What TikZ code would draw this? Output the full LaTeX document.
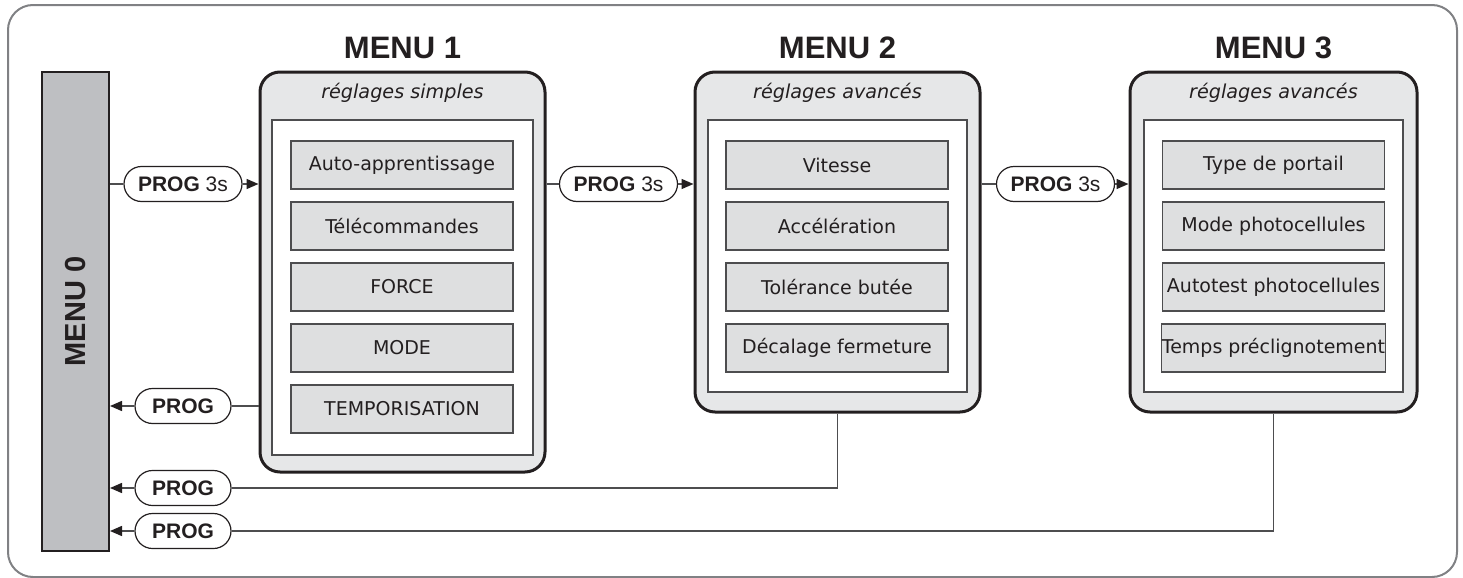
\documentclass[tikz,border=0pt]{standalone}
\usepackage{fontspec}
\setmainfont{DejaVu Sans}
\newfontfamily\hv{Liberation Sans}
\usetikzlibrary{arrows.meta}
\definecolor{framegray}{HTML}{808184}
\definecolor{menufill}{HTML}{E6E7E8}
\definecolor{itemfill}{HTML}{DEDFE0}
\definecolor{barfill}{HTML}{BEBFC2}
\definecolor{ink}{HTML}{231F20}
\definecolor{conngray}{HTML}{4D4D4F}
\begin{document}
\begin{tikzpicture}[x=0.5pt,y=-0.5pt,
  menubox/.style={draw=ink,line width=1.5pt,fill=menufill,rounded corners=10pt,inner sep=0pt},
  innerbox/.style={draw=conngray,line width=0.75pt,fill=white,inner sep=0pt},
  itembox/.style={draw=conngray,line width=0.6pt,fill=itemfill,inner sep=0pt,
    minimum width=111pt,minimum height=24pt,text=ink,font=\fontsize{9.5}{11}\selectfont},
  subtitle/.style={text=ink,font=\fontsize{9.6}{11}\selectfont\itshape},
  menutitle/.style={text=ink,font=\hv\bfseries\fontsize{15.5}{18}\selectfont},
  bar/.style={draw=ink,line width=1pt,fill=barfill,inner sep=0pt},
  pill/.style={draw=ink,line width=0.6pt,fill=white,rounded corners=8.75pt,inner sep=0pt,
    minimum width=59pt,minimum height=17.5pt,text=ink,font=\hv\fontsize{10.5}{12}\selectfont},
  rpill/.style={pill,minimum width=48pt},
  conn/.style={draw=conngray,line width=0.75pt},
  connarrow/.style={conn,-{Triangle[length=6pt,width=5pt,color=ink]}}
]
\useasboundingbox (0,0) rectangle (1463,578);
\draw[draw=framegray,line width=1pt,rounded corners=12.5pt] (8,5) rectangle (1457,577);

% MENU 0
\node[bar,minimum width=33.5pt,minimum height=239.5pt] (m0) at (75.5,311.5) {};
\node[menutitle,rotate=90,font=\hv\bfseries\fontsize{14.5}{17}\selectfont] (m0t) at (m0) {MENU 0};

% MENU 1
\node[menubox,minimum width=142.5pt,minimum height=200pt] (m1) at (402.5,272) {};
\node[innerbox,minimum width=130.5pt,minimum height=167.5pt] (i1) at (402.5,287.5) {};
\node[menutitle] (t1) at (402.5,48) {MENU 1};
\node[subtitle] (s1) at (402.5,93) {réglages simples};
\node[itembox] (a1) at (402,165) {Auto-apprentissage};
\node[itembox] (a2) at (402,226) {Télécommandes};
\node[itembox] (a3) at (402,287) {FORCE};
\node[itembox] (a4) at (402,348) {MODE};
\node[itembox] (a5) at (402,409) {TEMPORISATION};

% MENU 2
\node[menubox,minimum width=142.5pt,minimum height=170pt] (m2) at (837.5,242) {};
\node[innerbox,minimum width=129.5pt,minimum height=136pt] (i2) at (837.5,256) {};
\node[menutitle] (t2) at (837.5,48) {MENU 2};
\node[subtitle] (s2) at (837.5,93) {réglages avancés};
\node[itembox] (b1) at (837,165) {Vitesse};
\node[itembox] (b2) at (837,226) {Accélération};
\node[itembox] (b3) at (837,287) {Tolérance butée};
\node[itembox] (b4) at (837,348) {Décalage fermeture};

% MENU 3
\node[menubox,minimum width=143.5pt,minimum height=170pt] (m3) at (1273.5,242) {};
\node[innerbox,minimum width=129.5pt,minimum height=136pt] (i3) at (1273.5,256) {};
\node[menutitle] (t3) at (1273.5,48) {MENU 3};
\node[subtitle] (s3) at (1273.5,93) {réglages avancés};
\node[itembox] (c1) at (1273.5,165) {Type de portail};
\node[itembox] (c2) at (1273.5,226) {Mode photocellules};
\node[itembox] (c3) at (1273.5,287) {Autotest photocellules};
\node[itembox] (c4) at (1273.5,348) {Temps préclignotement};

% forward pills
\node[pill] (p1) at (183,184) {\textbf{PROG} 3s};
\node[pill] (p2) at (618.5,184) {\textbf{PROG} 3s};
\node[pill] (p3) at (1055.5,184) {\textbf{PROG} 3s};
\draw[conn] (m0.east |- p1) -- (p1.west);
\draw[connarrow] (p1.east) -- (m1.west |- p1);
\draw[conn] (m1.east |- p2) -- (p2.west);
\draw[connarrow] (p2.east) -- (m2.west |- p2);
\draw[conn] (m2.east |- p3) -- (p3.west);
\draw[connarrow] (p3.east) -- (m3.west |- p3);

% return pills
\node[rpill] (r1) at (183,406) {\textbf{PROG}};
\node[rpill] (r2) at (183,488) {\textbf{PROG}};
\node[rpill] (r3) at (183,531) {\textbf{PROG}};
\draw[conn] (m1.west |- r1) -- (r1.east);
\draw[connarrow] (r1.west) -- (m0.east |- r1);
\draw[conn] (m2.south) |- (r2.east);
\draw[connarrow] (r2.west) -- (m0.east |- r2);
\draw[conn] (m3.south) |- (r3.east);
\draw[connarrow] (r3.west) -- (m0.east |- r3);
\end{tikzpicture}
\end{document}
